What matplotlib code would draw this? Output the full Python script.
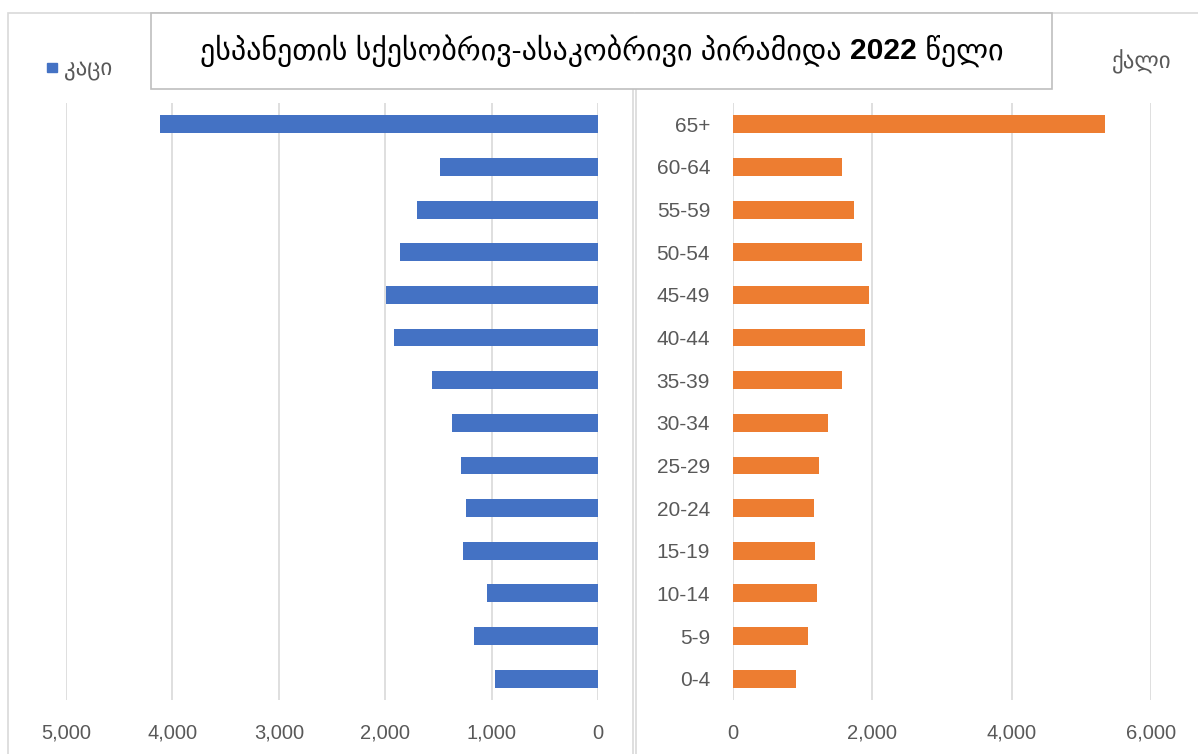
import matplotlib
matplotlib.use("Agg")
import matplotlib.pyplot as plt
from matplotlib.patches import Rectangle

# data
ages = ["0-4", "5-9", "10-14", "15-19", "20-24", "25-29", "30-34",
        "35-39", "40-44", "45-49", "50-54", "55-59", "60-64", "65+"]
men = [968, 1165, 1043, 1269, 1241, 1288, 1372, 1560, 1917, 1992, 1861, 1701, 1485, 4116]
women = [905, 1077, 1206, 1177, 1163, 1235, 1364, 1565, 1895, 1953, 1852, 1737, 1565, 5341]
left_ticks = [0, 1000, 2000, 3000, 4000, 5000]
right_ticks = [0, 2000, 4000, 6000]

blue = "#4472c4"
orange = "#ed7d31"
grid_c = "#d9d9d9"
txt_c = "#595959"
fam = ["Liberation Sans", "DejaVu Sans"]
plt.rcParams['font.family'] = fam

W, H = 1198, 754
fig = plt.figure(figsize=(W / 100, H / 100), dpi=100)

def fx(px):
    return px / W
def fy(py):
    return 1 - py / H

# chart frames
fig.patches.append(Rectangle((fx(8), fy(770)), fx(625), (770 - 13) / H, transform=fig.transFigure,
                             fill=False, ec=grid_c, lw=1.2, zorder=0))
fig.patches.append(Rectangle((fx(636), fy(770)), fx(620), (770 - 13) / H, transform=fig.transFigure,
                             fill=False, ec=grid_c, lw=1.2, zorder=0))

y = list(range(len(ages)))
bot = fy(700)
hgt = (700 - 103) / H

# left: men
axl = fig.add_axes([fx(66), bot, fx(598 - 66), hgt])
axl.barh(y, men, height=0.42, color=blue, zorder=3)
axl.set_xlim(5000, 0)
axl.set_ylim(-0.5, 13.5)
axl.set_xticks(left_ticks)
axl.set_xticklabels([f"{v:,}" for v in left_ticks])
axl.set_yticks([])
axl.grid(axis="x", color=grid_c, lw=1.2, zorder=0)
for s in axl.spines.values():
    s.set_visible(False)
axl.tick_params(axis="x", length=0, pad=17, labelsize=14.5, labelcolor=txt_c)

# right: women
axr = fig.add_axes([fx(733), bot, fx(1151 - 733), hgt])
axr.barh(y, women, height=0.42, color=orange, zorder=3)
axr.set_xlim(0, 6000)
axr.set_ylim(-0.5, 13.5)
axr.set_xticks(right_ticks)
axr.set_xticklabels([f"{v:,}" for v in right_ticks])
axr.set_yticks(y)
axr.set_yticklabels(ages)
axr.grid(axis="x", color=grid_c, lw=1.2, zorder=0)
for s in axr.spines.values():
    s.set_visible(False)
axr.tick_params(axis="x", length=0, pad=17, labelsize=14.5, labelcolor=txt_c)
axr.tick_params(axis="y", length=0, pad=16.5, labelsize=15, labelcolor=txt_c)

# legend entries
fig.patches.append(Rectangle((fx(47), fy(72)), fx(10), 9 / H, transform=fig.transFigure,
                             color=blue, zorder=2))
fig.text(fx(64), fy(68), "კაცი", fontsize=16.5, color=txt_c, va="center", ha="left")
fig.text(fx(1112), fy(62), "ქალი", fontsize=16.5, color=txt_c, va="center", ha="left")

# title box
fig.patches.append(Rectangle((fx(151), fy(89)), fx(1052 - 151), (89 - 13) / H, transform=fig.transFigure,
                             fc="white", ec="#bfbfbf", lw=1.2, zorder=5))
parts = [("ესპანეთის სქესობრივ-ასაკობრივი პირამიდა ", "normal"),
         ("2022", "bold"),
         (" წელი", "normal")]
fig.canvas.draw()
r = fig.canvas.get_renderer()
texts = []
for s, wgt in parts:
    t = fig.text(0, fy(51), s, fontsize=21.6, weight=wgt, color="black",
                 va="center", ha="left", zorder=6)
    texts.append(t)
widths = [t.get_window_extent(r).width for t in texts]
x0 = (151 + 1052) / 2 - sum(widths) / 2
for t, w in zip(texts, widths):
    t.set_x(x0 / W)
    x0 += w

fig.savefig("out.png", dpi=100)
